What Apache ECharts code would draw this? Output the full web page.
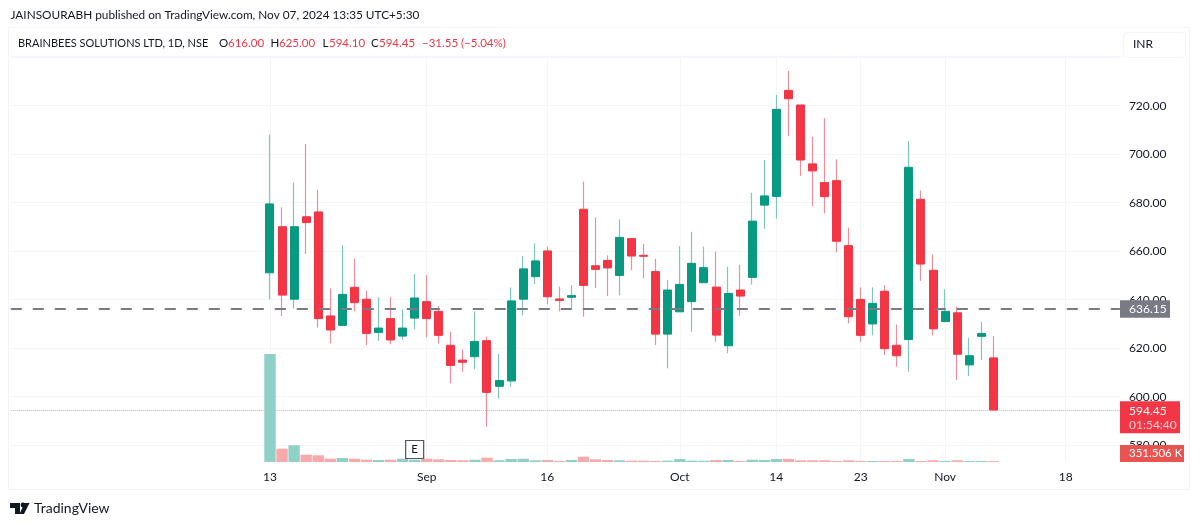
<!DOCTYPE html>
<html>
<head>
<meta charset="utf-8">
<style>html,body{margin:0;padding:0;background:#fff}#c{width:1200px;height:526px}</style>
<script src="https://cdn.jsdelivr.net/npm/echarts@6/dist/echarts.min.js"></script>
</head>
<body>
<div id="c"></div>
<script>
const opens = [651.1,670.1,640.2,674.2,676.2,633.3,629.4,645.1,640.2,626.5,632.2,625,632.4,639.2,635.2,621.2,615.1,616.5,623.1,604.3,606.5,640.2,649.5,660.1,640.3,641,677.3,654,656.2,650,665.2,658.3,651.6,625.8,635,639.2,647,645.2,621,644,649.2,679,682.6,726.3,720.3,696,688.3,689.1,662.3,640.1,630,643.5,621.2,623.6,681.4,652.1,631,634.6,613.1,624.9,616];
const closes = [679.5,641.9,670.1,671.8,632.2,627.5,642.2,638.8,626.1,628.3,623.4,628.3,640.7,632.2,625.3,612.9,614.2,622.8,601.8,606.7,639.5,652.7,656,641.2,639.7,641.7,645.9,652.5,653.1,665.7,658,657.9,625.8,644,646.3,655,653.2,625.4,642.6,641.5,672.4,682.8,718.5,722.9,697.6,693.1,682.5,664.1,633,625.3,638.5,619.8,616.9,694.6,654.7,628,635.2,617.5,616.9,626.1,594.45];
const highs = [708.1,678.1,688.3,704.2,685.2,644.7,662.4,656.9,643.7,641,641,636,650.6,650.2,637.4,626.8,619.5,635.1,624.7,617.6,645,658,663.2,661.9,645.4,646,688.7,674,658.3,673.1,665.2,663,657,648.1,662.1,668,661.9,659.8,653.6,654.4,684.1,697.6,724.4,734.3,720.3,707.2,714.9,697.9,669.7,645.1,645.1,645.9,629.8,705.4,685,658.7,644.3,637.1,624.3,630.9,625];
const lows = [640.2,633.3,636.4,658.8,628.5,622,629.4,635.3,621.3,623,621.6,623.4,627.8,624.5,622,605.5,610.3,611.3,587.6,599.3,604.1,633.5,646.5,638.1,635.2,636.3,633,644.8,641.5,641.8,652.2,648.8,621.3,611.7,635,626.8,647,622.7,617.9,633.4,646.3,669.3,673.4,707.5,691,678.6,675.6,659.5,630.3,622.6,625.3,617.2,612.4,610.3,647.8,625.3,630.7,606.9,608.5,615.1,594.1];
const volumesK = [43200,5320,6680,2920,2680,1320,1600,1320,920,800,920,1320,920,1320,1080,800,680,920,1720,680,1200,1320,680,800,400,800,2120,1080,800,680,520,520,400,520,1200,520,520,800,800,400,920,800,1200,1200,680,680,680,400,680,400,400,400,400,1200,400,680,400,680,400,400,351.506];
const leadingBlanks = 21;
const trailingBlanks = 10;
const tickIndex = [0,13,23,34,42,49,56,66];
const tickLabels = ['13','Sep','16','Oct','14','23','Nov','18'];
const priceTicksMin = 580, priceTicksMax = 740, priceStep = 20;
const lastPrice = 594.45, countdown = '01:54:40', refPrice = 636.15;
const lastVolume = '351.506 K';

const UP = '#089981', DOWN = '#f23645', UPW = '#7cc8ba', DOWNW = '#f38c98';
const FONT = 'Lato, "Noto Sans", sans-serif';
const n = opens.length;
const total = leadingBlanks + n + trailingBlanks;
const cats = Array.from({length: total}, (_, i) => 'c' + (i - leadingBlanks));
const pad = arr => Array(leadingBlanks).fill('-').concat(arr);
const wickData = pad(opens.map((o, i) => [o, closes[i], lows[i], highs[i]]));
const bodyData = pad(opens.map((o, i) => [o, closes[i], Math.min(o, closes[i]), Math.max(o, closes[i])]));
const volData = pad(volumesK.map((v, i) => ({
  value: v,
  itemStyle: {color: closes[i] >= opens[i] ? '#8fd1c6' : '#f9a9aa'}
})));
const labelAt = {};
tickIndex.forEach((t, i) => labelAt[t + leadingBlanks] = tickLabels[i]);
const isTick = i => labelAt[i] !== undefined;

const gridBase = {left: 10.8, right: 80.1};
const xBase = {type: 'category', data: cats, boundaryGap: true};

const chart = echarts.init(document.getElementById('c'), null, {renderer: 'canvas'});
chart.setOption({
  animation: false,
  backgroundColor: '#fff',
  grid: [
    Object.assign({top: 57.2, bottom: 526 - 445.2}, gridBase),
    Object.assign({top: 57.2, bottom: 526 - 462}, gridBase)
  ],
  xAxis: [
    Object.assign({gridIndex: 0, axisLine: {show: false}, axisTick: {show: false}, axisLabel: {show: false}, splitLine: {show: false}}, xBase),
    Object.assign({
      gridIndex: 1,
      axisLine: {show: false},
      axisTick: {show: false},
      splitLine: {show: true, alignWithLabel: true, interval: i => isTick(i), lineStyle: {color: '#f3f5f8', width: 1}},
      axisLabel: {
        show: true, interval: i => isTick(i), margin: 9,
        formatter: (v, i) => labelAt[i] || '',
        color: '#131722', fontSize: 12, fontFamily: FONT
      }
    }, xBase)
  ],
  yAxis: [
    {
      gridIndex: 0, type: 'value', position: 'right',
      min: priceTicksMin, max: priceTicksMax, interval: priceStep,
      axisLine: {show: false}, axisTick: {show: false},
      splitLine: {show: true, lineStyle: {color: '#f3f5f8', width: 1}},
      axisLabel: {
        margin: 9, color: '#131722', fontSize: 12, fontFamily: FONT,
        formatter: v => v === priceTicksMax ? '' : v.toFixed(2)
      }
    },
    {gridIndex: 1, type: 'value', min: 0, max: 162000, show: false}
  ],
  series: [
    {
      type: 'bar', name: 'Volume', xAxisIndex: 1, yAxisIndex: 1, data: volData,
      barWidth: 11.4, silent: true, z: 1,
      markPoint: {
        silent: true,
        data: [{coord: ['c12', 5000]}],
        symbol: 'rect', symbolSize: 18,
        itemStyle: {color: '#ffffff', borderColor: '#50535e', borderWidth: 1.2},
        label: {show: true, formatter: 'E', color: '#131722', fontSize: 11.5, fontFamily: FONT, position: 'inside'}
      }
    },
    {
      type: 'candlestick', name: 'Wick', xAxisIndex: 0, yAxisIndex: 0, data: wickData,
      barWidth: 1, z: 3, silent: true, clip: false,
      itemStyle: {color: UPW, color0: DOWNW, borderColor: UPW, borderColor0: DOWNW, borderWidth: 1.2},
      markLine: {
        silent: true, symbol: 'none', animation: false,
        label: {show: false},
        data: [
          {yAxis: refPrice, lineStyle: {color: '#787b86', type: [11, 11], width: 2}},
          {yAxis: lastPrice, lineStyle: {color: '#f6a3aa', type: 'dotted', width: 1}}
        ]
      }
    },
    {
      type: 'candlestick', name: 'Body', xAxisIndex: 0, yAxisIndex: 0, data: bodyData,
      barWidth: 8.5, z: 4, silent: true,
      itemStyle: {color: UP, color0: DOWN, borderColor: UP, borderColor0: DOWN, borderWidth: 1}
    }
  ]
});

const yPrice = p => chart.convertToPixel({yAxisIndex: 0}, p);
const yVol = v => chart.convertToPixel({yAxisIndex: 1}, v);
const txt = (x, y, text, fill, size, extra) => ({
  type: 'text', x, y, z: 20,
  style: Object.assign({text, fill, font: (size || 11) + 'px ' + FONT, verticalAlign: 'middle'}, extra || {})
});
const rect = (x, y, w, h, fill, stroke, r) => ({
  type: 'rect', z: 15,
  shape: {x, y, width: w, height: h, r: r || 0},
  style: {fill: fill || 'none', stroke: stroke || null, lineWidth: 1}
});
const refY = yPrice(refPrice), lastY = yPrice(lastPrice), volY = yVol(0);
const RED = '#f23645';
chart.setOption({
  graphic: [
    rect(8.5, 27.5, 1181, 462, null, '#f0f3fa'),
    {type: 'line', z: 15, shape: {x1: 8.5, y1: 56.5, x2: 1123, y2: 56.5}, style: {stroke: '#f3f5f8', lineWidth: 1}},
    rect(1123.5, 32.5, 62, 25, '#fff', '#f3f5f8', 4),
    txt(1133, 44.5, 'INR', '#131722', 12),
    txt(10.5, 15, 'JAINSOURABH published on TradingView.com, Nov 07, 2024 13:35 UTC+5:30', '#131722', 11.8),
    txt(18, 43, 'BRAINBEES SOLUTIONS LTD, 1D, NSE', '#131722', 11),
    txt(219, 43, 'O', '#131722', 11.5), txt(228, 43, '616.00', RED, 11.5),
    txt(270.5, 43, 'H', '#131722', 11.5), txt(279, 43, '625.00', RED, 11.5),
    txt(322.5, 43, 'L', '#131722', 11.5), txt(329, 43, '594.10', RED, 11.5),
    txt(371, 43, 'C', '#131722', 11.5), txt(379, 43, '594.45', RED, 11.5),
    txt(422, 43, '\u221231.55 (\u22125.04%)', RED, 11.5),
    rect(1120, refY - 8.7, 50, 17.5, '#787b86'),
    txt(1129, refY, refPrice.toFixed(2), '#fff', 12),
    rect(1120, lastY - 9, 60, 32, RED),
    txt(1129, lastY + 0.5, lastPrice.toFixed(2), '#fff', 12),
    txt(1129, lastY + 14.5, countdown, '#fbd0d4', 12),
    rect(1120, volY - 17, 64, 17, '#ea5450'),
    txt(1129, volY - 8.5, lastVolume, '#fff', 11.5),
    {type: 'polygon', z: 20, shape: {points: [[10, 503], [20, 503], [20, 514], [15, 514], [15, 508], [10, 508]]}, style: {fill: '#131722'}},
    {type: 'circle', z: 20, shape: {cx: 23, cy: 505, r: 2.4}, style: {fill: '#131722'}},
    {type: 'polygon', z: 20, shape: {points: [[24, 514], [19.5, 514], [24.5, 503], [29.5, 503]]}, style: {fill: '#131722'}},
    txt(34, 508, 'TradingView', '#131722', 14)
  ]
});
</script>
</body>
</html>
